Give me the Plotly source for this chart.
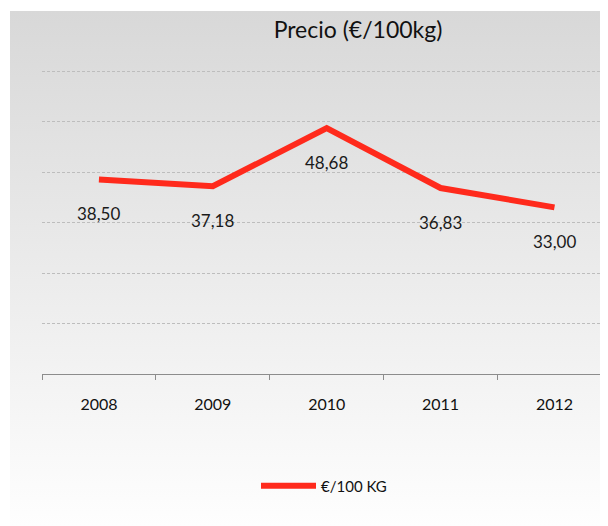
import base64
import plotly.graph_objects as go

# Data
years = ["2008", "2009", "2010", "2011", "2012"]
prices = [38.50, 37.18, 48.68, 36.83, 33.00]
price_labels = ["38,50", "37,18", "48,68", "36,83", "33,00"]
series_name = "€/100 KG"
title_text = "Precio (€/100kg)"

# page body adds an 8px offset; work in figure coords = reference - 8
OFF = 8
W, H = 608 - OFF, 526 - OFF
ml, mr, mt = 42 - OFF, 0, 70 - OFF
plot_bottom = 374 - OFF
mb = H - plot_bottom
pw, ph = W - ml - mr, H - mt - mb

RED = "#FF2A1C"
FONT = "Lato, 'Open Sans', sans-serif"

svg = (
    '<svg xmlns="http://www.w3.org/2000/svg" width="100" height="100" preserveAspectRatio="none">'
    '<defs><linearGradient id="g" x1="0" y1="0" x2="0" y2="1">'
    '<stop offset="0" stop-color="#d8d8d8"/><stop offset="1" stop-color="#fefefe"/>'
    '</linearGradient></defs><rect width="100" height="100" fill="url(#g)"/></svg>'
)
svg_uri = "data:image/svg+xml;base64," + base64.b64encode(svg.encode()).decode()

fig = go.Figure()
fig.add_trace(go.Scatter(
    x=years, y=prices, mode="lines", name=series_name,
    line=dict(color=RED, width=6),
    hoverinfo="skip",
))

for i, (v, lab) in enumerate(zip(prices, price_labels)):
    fig.add_annotation(x=i, y=v, xref="x", yref="y", text=lab, showarrow=False,
                       yshift=-34,
                       font=dict(family=FONT, size=17, color="#1a1a1a"))

# background gradient (paper coords relative to plot area)
bx0, by0, bx1, by1 = 10 - OFF, 11 - OFF, W, H
fig.add_layout_image(
    source=svg_uri, xref="paper", yref="paper",
    x=(bx0 - ml) / pw, y=1 + (mt - by0) / ph,
    sizex=(bx1 - bx0) / pw, sizey=(by1 - by0) / ph,
    xanchor="left", yanchor="top", sizing="stretch", layer="below",
)

fig.update_layout(
    width=W, height=H,
    margin=dict(l=ml, r=mr, t=mt, b=mb, autoexpand=False),
    paper_bgcolor="white", plot_bgcolor="rgba(0,0,0,0)",
    title=dict(text=title_text, x=(358 - OFF) / W, xref="container", xanchor="center",
               y=1 - (30 - OFF) / H, yanchor="middle",
               font=dict(family=FONT, size=23, color="#111")),
    showlegend=True,
    legend=dict(orientation="h", x=(256 - OFF - ml) / pw, xanchor="left",
                y=-(486 - 374) / ph, yanchor="middle",
                font=dict(family=FONT, size=15, color="#111"),
                bgcolor="rgba(0,0,0,0)", itemwidth=55),
    xaxis=dict(type="category", range=[-0.5, 4.47],
               showline=True, linecolor="#8c8c8c", linewidth=1,
               ticks="outside", tickson="boundaries", ticklen=5, tickcolor="#8c8c8c",
               showgrid=False, zeroline=False, ticklabelstandoff=16,
               tickfont=dict(family=FONT, size=16, color="#111")),
    yaxis=dict(range=[0, 60.2], tickvals=[10, 20, 30, 40, 50, 60], showticklabels=False,
               showgrid=True, gridcolor="#bdbdbd", gridwidth=1, griddash="3px,2px",
               zeroline=False, showline=False),
)

fig.write_html("out.html")
